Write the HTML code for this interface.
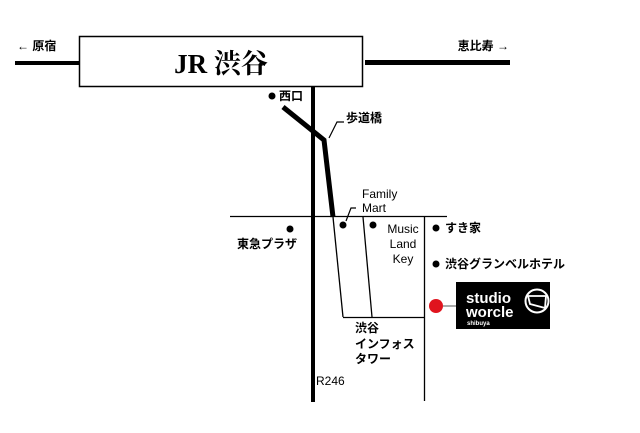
<!DOCTYPE html>
<html><head><meta charset="utf-8"><style>
body{margin:0;background:#fff;width:640px;height:428px;overflow:hidden}
svg text{font-family:"Liberation Sans","Noto Sans CJK JP",sans-serif;fill:#000}
</style></head><body>
<svg width="640" height="428" viewBox="0 0 640 428">
<rect x="0" y="0" width="640" height="428" fill="#fff"/>
<rect x="15" y="61" width="65" height="4" fill="#000"/>
<rect x="365" y="60" width="145" height="5" fill="#000"/>
<rect x="79.5" y="36.5" width="283" height="50" fill="#fff" stroke="#000" stroke-width="1.5"/>
<text x="221" y="73" text-anchor="middle" font-size="27" font-weight="bold" style="font-family:'Liberation Serif','Noto Serif CJK SC',serif">JR 渋谷</text>
<text x="17" y="50" font-size="12" font-weight="bold">← 原宿</text>
<text x="509" y="50" font-size="12" font-weight="bold" text-anchor="end">恵比寿 →</text>
<rect x="311" y="86" width="4" height="316" fill="#000"/>
<polyline points="283,107 324,140 333,217" fill="none" stroke="#000" stroke-width="5"/>
<line x1="230" y1="216.5" x2="447" y2="216.5" stroke="#000" stroke-width="1.3"/>
<line x1="333" y1="217" x2="343" y2="317" stroke="#000" stroke-width="1.3"/>
<line x1="363" y1="217" x2="372" y2="317" stroke="#000" stroke-width="1.3"/>
<line x1="424.5" y1="217" x2="424.5" y2="401" stroke="#000" stroke-width="1.3"/>
<line x1="343" y1="317.5" x2="425" y2="317.5" stroke="#000" stroke-width="1.3"/>
<polyline points="329,138 337,122 344,122" fill="none" stroke="#000" stroke-width="1.2"/>
<polyline points="346,221 351,208 356,208" fill="none" stroke="#000" stroke-width="1.2"/>
<circle cx="272" cy="96" r="3.5" fill="#000"/>
<text x="279" y="100" font-size="12" font-weight="bold">西口</text>
<text x="346" y="122" font-size="12" font-weight="bold">歩道橋</text>
<text x="362" y="198" font-size="12">Family</text>
<text x="362" y="212" font-size="12">Mart</text>
<circle cx="343" cy="225" r="3.5" fill="#000"/>
<circle cx="373" cy="225" r="3.5" fill="#000"/>
<text x="403" y="233" font-size="12" text-anchor="middle">Music</text>
<text x="403" y="248" font-size="12" text-anchor="middle">Land</text>
<text x="403" y="263" font-size="12" text-anchor="middle">Key</text>
<circle cx="290" cy="229" r="3.5" fill="#000"/>
<text x="237" y="248" font-size="12" font-weight="bold">東急プラザ</text>
<circle cx="436" cy="228" r="3.5" fill="#000"/>
<text x="445" y="232" font-size="12" font-weight="bold">すき家</text>
<circle cx="436" cy="264" r="3.5" fill="#000"/>
<text x="445" y="268" font-size="12" font-weight="bold">渋谷グランベルホテル</text>
<text x="355" y="332" font-size="12" font-weight="bold">渋谷</text>
<text x="355" y="348" font-size="12" font-weight="bold">インフォス</text>
<text x="355" y="363" font-size="12" font-weight="bold">タワー</text>
<text x="316" y="385" font-size="12">R246</text>
<line x1="443" y1="306" x2="457" y2="306" stroke="#555" stroke-width="1"/>
<circle cx="436" cy="306" r="7" fill="#e0141e"/>
<rect x="456" y="282" width="94" height="47" fill="#000"/>
<text x="466" y="303" font-size="15" font-weight="bold" style="fill:#fff">studio</text>
<text x="466" y="317" font-size="15" font-weight="bold" style="fill:#fff">worcle</text>
<text x="467" y="325" font-size="6" font-weight="bold" style="fill:#fff">shibuya</text>
<circle cx="537" cy="301" r="11.5" fill="none" stroke="#fff" stroke-width="2"/>
<polygon points="528,296 546,296 545,308 530,304" fill="none" stroke="#fff" stroke-width="1.8"/>
</svg>
</body></html>
